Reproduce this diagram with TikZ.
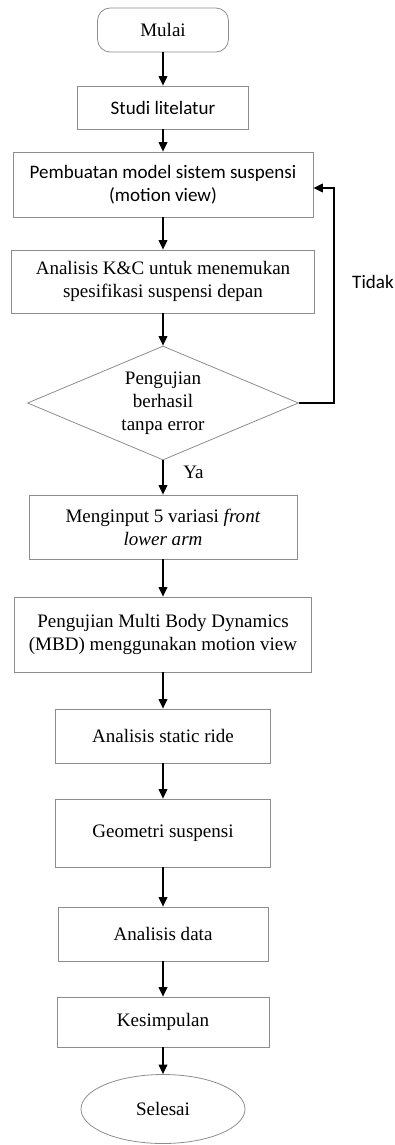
\documentclass[tikz,border=0pt]{standalone}
\usepackage{fontspec}
\setmainfont{Liberation Serif}
\newfontfamily\calibri{Carlito}
\usetikzlibrary{shapes.geometric,arrows.meta}
\begin{document}
\begin{tikzpicture}[x=0.63pt,y=-0.63pt,
  box/.style={draw=black!45,line width=0.5pt,align=center,inner sep=0pt,
    font=\fontsize{12}{14.5}\selectfont},
  sz/.style 2 args={minimum width=#1*0.63pt,minimum height=#2*0.63pt},
  flow/.style={-{Triangle[length=6pt,width=5.5pt]},line width=0.9pt}]
\useasboundingbox (0,0) rectangle (395,1145);
% blocks
\node[box,sz={131}{44},rounded corners=8pt] (mulai) at (163,30) {Mulai};
\node[box,sz={171}{43},font=\calibri\fontsize{12}{14.5}\selectfont] (studi) at (163,107.5) {Studi litelatur};
\node[box,sz={300}{65},font=\calibri\fontsize{12}{14.5}\selectfont] (model) at (163,184.5) {Pembuatan model sistem suspensi\\(motion view)};
\node[box,sz={303}{63}] (kc) at (163,281.5) {Analisis K\&C untuk menemukan\\spesifikasi suspensi depan};
\node[box,diamond,aspect=2.4,sz={271}{114}] (uji) at (163,403) {Pengujian\\berhasil\\tanpa error};
\node[box,sz={268}{64}] (input) at (163,527) {Menginput 5 variasi \textit{front}\\\textit{lower arm}};
\node[box,sz={297}{75}] (mbd) at (163,634.5) {Pengujian Multi Body Dynamics\\(MBD) menggunakan motion view};
\node[box,sz={215}{54}] (ride) at (163,736) {Analisis static ride};
\node[box,sz={215}{68}] (geom) at (163,833) {Geometri suspensi};
\node[box,sz={210}{54}] (data) at (163,934) {Analisis data};
\node[box,sz={212}{50}] (kes) at (163,1022) {Kesimpulan};
\node[box,ellipse,sz={164}{69}] (selesai) at (163,1109) {Selesai};
% labels
\node[anchor=west,inner sep=0pt,font=\fontsize{12}{14.5}\selectfont] (ya) at (183,472) {Ya};
\node[anchor=east,inner sep=0pt,font=\calibri\fontsize{12}{14.5}\selectfont] (tidak) at (394,282) {Tidak};
% arrows
\draw[flow] (mulai) -- (studi);
\draw[flow] (studi) -- (model);
\draw[flow] (model) -- (kc);
\draw[flow] (kc) -- (uji);
\draw[flow] (uji) -- (input);
\draw[flow] (input) -- (mbd);
\draw[flow] (mbd) -- (ride);
\draw[flow] (ride) -- (geom);
\draw[flow] (geom) -- (data);
\draw[flow] (data) -- (kes);
\draw[flow] (kes) -- (selesai);
\coordinate (balik) at (334,403);
\draw[flow] (uji.east) -- (balik) |- ([yshift=-3.5*0.63pt]model.east);
\end{tikzpicture}
\end{document}
